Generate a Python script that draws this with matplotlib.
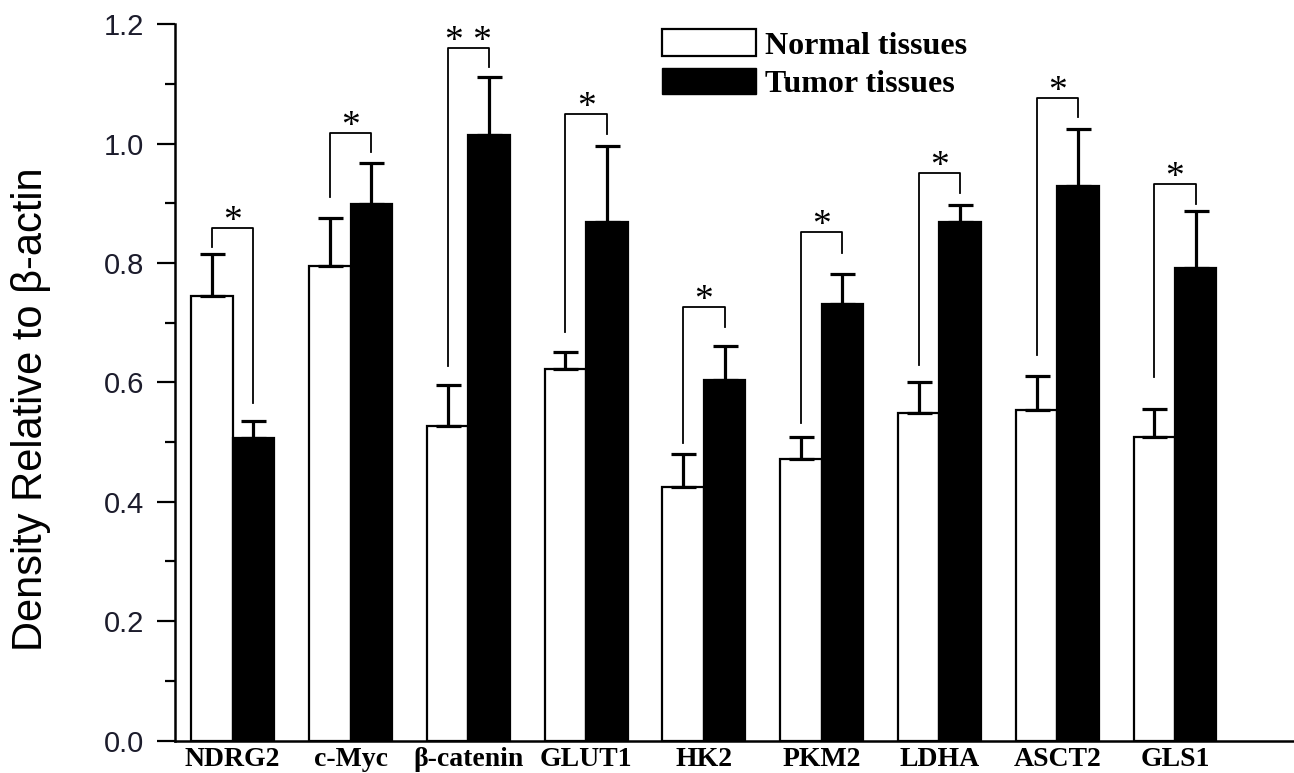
import matplotlib.pyplot as plt
import numpy as np
from matplotlib.patches import Patch

# values (density relative to beta-actin)
genes = ['NDRG2', 'c-Myc', 'β-catenin', 'GLUT1', 'HK2', 'PKM2', 'LDHA', 'ASCT2', 'GLS1']
normal = [0.745, 0.795, 0.527, 0.622, 0.425, 0.472, 0.549, 0.554, 0.509]
normal_err = [0.070, 0.081, 0.068, 0.028, 0.055, 0.037, 0.051, 0.057, 0.047]
tumor = [0.506, 0.898, 1.014, 0.868, 0.604, 0.731, 0.869, 0.928, 0.792]
tumor_err = [0.029, 0.069, 0.098, 0.128, 0.057, 0.051, 0.028, 0.096, 0.095]

# significance brackets: top line, bottom of left leg, bottom of right leg
sig_top = [0.858, 1.018, 1.160, 1.049, 0.726, 0.852, 0.951, 1.076, 0.932]
sig_left = [0.827, 0.910, 0.628, 0.685, 0.498, 0.531, 0.629, 0.646, 0.609]
sig_right = [0.565, 0.986, 1.128, 1.016, 0.693, 0.817, 0.917, 1.044, 0.899]
sig_mark = ['*', '*', '* *', '*', '*', '*', '*', '*', '*']

W, H = 1294, 773
fig = plt.figure(figsize=(W / 100, H / 100), dpi=100)
ax = fig.add_axes([175 / W, 1 - 740.5 / H, 1 - 175 / W, (740.5 - 24.1) / H])

x = np.arange(len(genes))
w = 0.352
zeros = np.zeros(len(genes))
ekw = dict(ecolor='black', elinewidth=2.3, capsize=9, capthick=2.3)

ax.bar(x - w / 2, normal, w, color='white', edgecolor='black', linewidth=1.6,
       yerr=[zeros, normal_err], error_kw=ekw, zorder=3)
ax.bar(x + w / 2, tumor, w, color='black', edgecolor='black', linewidth=1.6,
       yerr=[zeros, tumor_err], error_kw=ekw, zorder=3)

# brackets + stars
for i in range(len(genes)):
    xl = x[i] - w / 2
    xr = x[i] + w / 2
    ax.plot([xl, xl, xr, xr], [sig_left[i], sig_top[i], sig_top[i], sig_right[i]],
            color='black', lw=1.3, zorder=4)
    ax.annotate(sig_mark[i], (x[i], sig_top[i]), xytext=(0, -2), textcoords='offset points',
                ha='center', va='baseline', fontsize=27, family='Liberation Serif')

ax.set_xlim(-0.49, 9.01)
ax.set_ylim(0, 1.2)
ax.set_yticks(np.arange(0, 1.21, 0.2))
ax.set_yticks(np.arange(0.1, 1.2, 0.2), minor=True)
ax.set_yticklabels(['%.1f' % v for v in np.arange(0, 1.21, 0.2)],
                   family='Liberation Sans', color='#1c1c2c')
ax.set_xticks(x, genes, family='Liberation Serif', fontweight='bold')

ax.tick_params(axis='y', which='major', direction='out', length=13, width=1.6, labelsize=21, pad=9)
ax.tick_params(axis='y', which='minor', direction='out', length=7, width=1.6)
ax.tick_params(axis='x', length=0, pad=5, labelsize=20)

for s in ['top', 'right']:
    ax.spines[s].set_visible(False)
for s in ['left', 'bottom']:
    ax.spines[s].set_linewidth(1.8)

ax.set_ylabel('Density Relative to β-actin', fontsize=30, family='Liberation Sans')
ax.yaxis.label.set_verticalalignment('center')
ax.yaxis.set_label_coords(-0.1287, 0.463)

handles = [Patch(facecolor='white', edgecolor='black', linewidth=1.6),
           Patch(facecolor='black', edgecolor='black')]
ax.legend(handles, ['Normal tissues', 'Tumor tissues'], loc='upper left',
          bbox_to_anchor=(661.7 / W, 1 - 29.3 / H), bbox_transform=fig.transFigure,
          frameon=False, borderpad=0, borderaxespad=0,
          handlelength=2.95, handleheight=0.9, handletextpad=0.28, labelspacing=0.22,
          prop=dict(family='Liberation Serif', weight='bold', size=23))

fig.savefig('out.png', dpi=100)
